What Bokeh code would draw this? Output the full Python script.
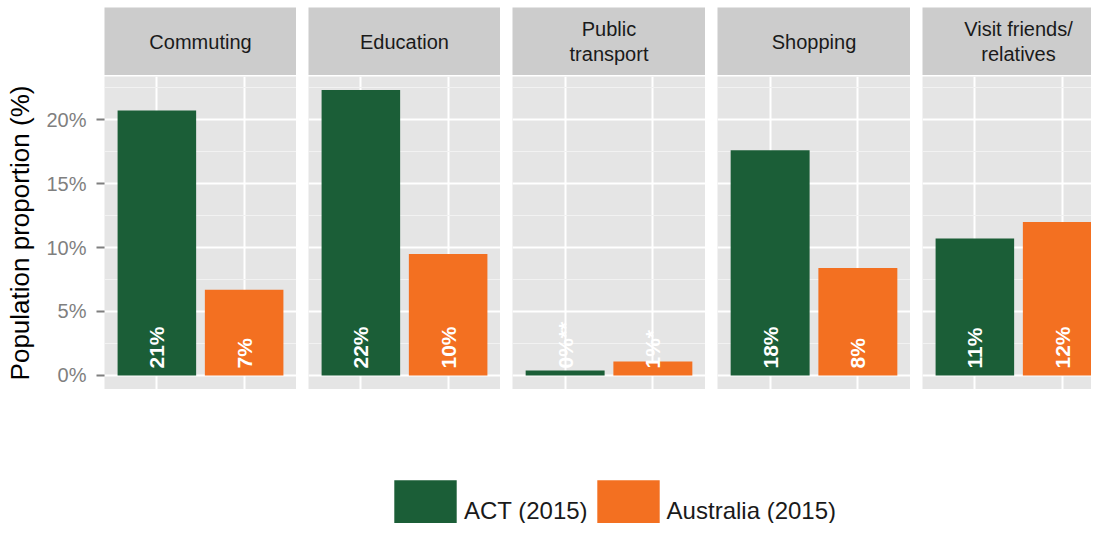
import math
from bokeh.plotting import figure
from bokeh.models import (Range1d, FixedTicker, Label, PrintfTickFormatter,
                          ColumnDataSource)
from bokeh.layouts import row, column
from bokeh.embed import file_html
from bokeh.resources import INLINE
from bokeh.core.properties import value

# ---------------- data ----------------
activities = ["Commuting", "Education", "Public\ntransport", "Shopping",
              "Visit friends/\nrelatives"]
series = ["ACT (2015)", "Australia (2015)"]
act_values = [20.7, 22.3, 0.4, 17.6, 10.7]
aus_values = [6.7, 9.5, 1.1, 8.4, 12.0]
act_labels = ["21%", "22%", "0%**", "18%", "11%"]
aus_labels = ["7%", "10%", "1%*", "8%", "12%"]
y_ticks = [0, 5, 10, 15, 20]
y_minor_ticks = [2.5, 7.5, 12.5, 17.5, 22.5]

# ---------------- style ----------------
colors = ["#1b5e37", "#f37021"]
FONT = "Liberation Sans"
PANEL_BG = "#e5e5e5"
STRIP_BG = "#cccccc"
Y_START, Y_END = -1.094, 23.36
PANEL_FRAME_H = 313
STRIP_FRAME_H = 68
TOP_GAP = 7
left_borders = [104, 12, 12, 12, 12]
frame_widths = [192, 192, 193, 193, 169]
nominal_widths = [192, 192, 193, 193, 192]
X_PAD = 0.6


def blank_fig(width, height, x_range, y_range, **kw):
    f = figure(width=width, height=height, x_range=x_range, y_range=y_range,
               output_backend="svg", toolbar_location=None,
               x_axis_location=None, y_axis_location=None,
               min_border_right=0, min_border_bottom=0, **kw)
    f.outline_line_color = None
    f.border_fill_color = "white"
    return f


strips = []
panels = []
for i, name in enumerate(activities):
    fw = frame_widths[i]
    xs = [k + 1 for k in range(len(series))]
    x_start = xs[0] - X_PAD
    full_span = (xs[-1] - xs[0]) + 2 * X_PAD
    x_end = x_start + full_span * fw / nominal_widths[i]

    # ---- strip (facet title) ----
    s = blank_fig(left_borders[i] + fw, TOP_GAP + STRIP_FRAME_H,
                  Range1d(x_start, x_end), Range1d(0, 1),
                  min_border_left=left_borders[i], min_border_top=TOP_GAP)
    s.background_fill_color = STRIP_BG
    s.xgrid.visible = False
    s.ygrid.visible = False
    s.add_layout(Label(x=sum(xs) / len(xs), y=0.5, text=name,
                       text_align="center", text_baseline="middle",
                       text_font=FONT, text_font_size="20px",
                       text_color="#1a1a1a", text_line_height=1.1))
    strips.append(s)

    # ---- panel ----
    p = figure(width=left_borders[i] + fw, height=1 + PANEL_FRAME_H,
               x_range=Range1d(x_start, x_end),
               y_range=Range1d(Y_START, Y_END),
               output_backend="svg", toolbar_location=None,
               x_axis_location=None,
               y_axis_location="left" if i == 0 else None,
               min_border_left=left_borders[i], min_border_right=0,
               min_border_top=1, min_border_bottom=0)
    p.background_fill_color = PANEL_BG
    p.border_fill_color = "white"
    p.outline_line_color = None

    p.xgrid.ticker = FixedTicker(ticks=xs)
    p.xgrid.grid_line_color = "white"
    p.xgrid.grid_line_width = 2
    p.ygrid.ticker = FixedTicker(ticks=y_ticks, minor_ticks=y_minor_ticks)
    p.ygrid.grid_line_color = "white"
    p.ygrid.grid_line_width = 2
    p.ygrid.minor_grid_line_color = "#f2f2f2"
    p.ygrid.minor_grid_line_width = 1

    src = ColumnDataSource(dict(
        x=xs,
        top=[act_values[i], aus_values[i]],
        base=[0, 0],
        color=colors,
        label=[act_labels[i], aus_labels[i]],
    ))
    p.vbar(x="x", top="top", bottom=0, width=0.9, fill_color="color",
           line_color=None, source=src)
    p.text(x="x", y="base", text="label", source=src, angle=math.pi / 2,
           text_align="left", text_baseline="middle", y_offset=-7,
           text_color="white", text_font=value(FONT), text_font_style="bold",
           text_font_size="21px")

    if i == 0:
        ax = p.yaxis[0]
        ax.ticker = FixedTicker(ticks=y_ticks, minor_ticks=y_minor_ticks)
        ax.formatter = PrintfTickFormatter(format="%d%%")
        ax.axis_label = "Population proportion (%)"
        ax.axis_label_text_font = FONT
        ax.axis_label_text_font_size = "26px"
        ax.axis_label_text_font_style = "normal"
        ax.axis_label_text_color = "black"
        ax.axis_label_standoff = 8
        ax.axis_line_color = None
        ax.major_tick_line_color = "#7f7f7f"
        ax.major_tick_line_width = 2
        ax.major_tick_out = 8
        ax.major_tick_in = 0
        ax.minor_tick_line_color = None
        ax.major_label_text_font = FONT
        ax.major_label_text_font_size = "20px"
        ax.major_label_text_color = "#7f7f7f"
        ax.major_label_standoff = 10
    panels.append(p)

# ---------------- legend ----------------
total_w = sum(left_borders) + sum(frame_widths)
lf = blank_fig(total_w, 134, Range1d(0, 1), Range1d(0, 1),
               min_border_left=0, min_border_top=0)
lf.xgrid.visible = False
lf.ygrid.visible = False
lf.background_fill_color = "white"
for s_name, c in zip(series, colors):
    # zero-height bar: only its legend entry is visible
    lf.vbar(x=[0.5], top=[0], bottom=0, width=0.9, fill_color=c,
            line_color=None, legend_label=s_name)
lg = lf.legend[0]
lg.orientation = "horizontal"
lg.location = (386, -27)
lg.glyph_width = 78
lg.glyph_height = 78
lg.label_standoff = 0
lg.spacing = 1
lg.padding = 0
lg.margin = 0
lg.border_line_color = None
lg.background_fill_alpha = 0
lg.label_text_font = FONT
lg.label_text_font_size = "24px"
lg.label_text_color = "#1a1a1a"

layout = column(row(*strips, spacing=0), row(*panels, spacing=0), lf,
                spacing=0)
open("out.html", "w").write(file_html(layout, INLINE))
